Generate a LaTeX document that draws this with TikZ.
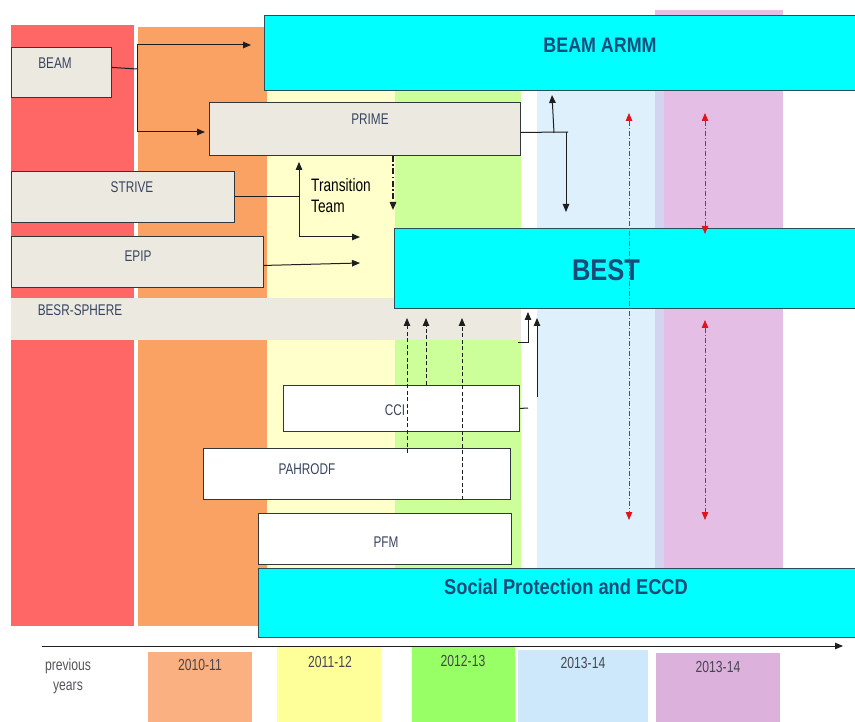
\documentclass[tikz,border=0pt]{standalone}
\usepackage{fontspec}
\setmainfont{Liberation Sans}[FakeStretch=0.76]
\newfontfamily\hfont{Liberation Sans}[FakeStretch=0.85]
\usetikzlibrary{arrows.meta}
\definecolor{colred}{RGB}{255,102,102}
\definecolor{colorange}{RGB}{250,162,100}
\definecolor{colyellow}{RGB}{255,255,204}
\definecolor{colgreen}{RGB}{204,255,153}
\definecolor{colblue}{RGB}{222,240,252}
\definecolor{colstripe}{RGB}{210,212,240}
\definecolor{colpink}{RGB}{228,190,228}
\definecolor{colcyan}{RGB}{0,255,255}
\definecolor{colbeige}{RGB}{236,233,225}
\definecolor{colborder}{RGB}{50,55,60}
\definecolor{coltitle}{RGB}{25,75,120}
\definecolor{collabel}{RGB}{55,68,95}
\definecolor{colarrowred}{RGB}{225,20,30}
\definecolor{yorange}{RGB}{250,176,128}
\definecolor{yyellow}{RGB}{255,255,153}
\definecolor{ygreen}{RGB}{153,255,102}
\definecolor{yblue}{RGB}{204,232,250}
\definecolor{ylilac}{RGB}{220,178,220}
\definecolor{ytext}{RGB}{70,70,80}
\definecolor{cyanborder}{RGB}{40,80,90}
\definecolor{prevtext}{RGB}{85,85,90}
\definecolor{lineblack}{RGB}{30,30,30}
\tikzset{
  boxbase/.style={draw=colborder, line width=0.9pt, anchor=north west, inner sep=0pt},
  beigebox/.style={boxbase, fill=colbeige},
  whitebox/.style={boxbase, fill=white},
  cyanbox/.style={boxbase, fill=colcyan, draw=cyanborder},
  lbl/.style={font=\fontsize{15.5}{18}\selectfont, text=collabel, inner sep=0pt},
  ttl/.style={font=\hfont\bfseries\fontsize{#1}{#1}\selectfont, text=coltitle, inner sep=0pt},
  yrtxt/.style={font=\fontsize{16}{19}\selectfont, text=ytext, inner sep=0pt},
  ln/.style={line width=1pt, draw=lineblack},
  arr/.style={ln, -{Triangle[length=8pt,width=6.5pt]}},
  dsharr/.style={line width=0.8pt, draw=lineblack, dash pattern=on 4pt off 2.5pt, -{Triangle[length=8pt,width=6.5pt]}},
  redarr/.style={line width=0.8pt, draw=colarrowred, dash pattern=on 5pt off 2pt on 1pt off 2pt, {Triangle[length=8pt,width=6.5pt]}-{Triangle[length=8pt,width=6.5pt]}}
}
\begin{document}
\begin{tikzpicture}[x=1pt,y=-1pt]
\useasboundingbox (0,0) rectangle (855,722);
\fill[white] (0,0) rectangle (855,722);
% background columns
\fill[colred] (11,25) rectangle (134,626);
\fill[colorange] (138,27) rectangle (267,626);
\fill[colyellow] (267,30) rectangle (395,568);
\fill[colgreen] (395,30) rectangle (521,568);
\fill[colblue] (537,90) rectangle (655,568);
\fill[colpink] (655,10) rectangle (783,568);
\fill[colstripe] (655,90) rectangle (664,568);
% BESR-SPHERE band
\fill[colbeige] (11,298) rectangle (521,340);
\node[lbl] (besrt) at (80,310) {BESR-SPHERE};
% boxes
\node[cyanbox, minimum width=591, minimum height=75] (armm) at (264,15) {};
\node[ttl=21] (armmt) at (600,45) {BEAM ARMM};
\node[beigebox, minimum width=100, minimum height=50] (beam) at (11,47) {};
\node[lbl] (beamt) at (55,63) {BEAM};
\node[beigebox, minimum width=311, minimum height=53] (prime) at (209,102) {};
\node[lbl] (primet) at (370,119) {PRIME};
\node[beigebox, minimum width=223, minimum height=51] (strive) at (11,171) {};
\node[lbl] (strivet) at (132,187) {STRIVE};
\node[beigebox, minimum width=252, minimum height=51] (epip) at (11,236) {};
\node[lbl] (epipt) at (138,256) {EPIP};
\node[cyanbox, minimum width=461, minimum height=80] (best) at (394,228) {};
\node[ttl=30] (bestt) at (606,270) {BEST};
\node[whitebox, minimum width=236, minimum height=46] (cci) at (283,385) {};
\node[lbl] (ccit) at (395,410) {CCI};
\node[whitebox, minimum width=307, minimum height=51] (pahrodf) at (203,448) {};
\node[lbl] (pahrodft) at (307,469) {PAHRODF};
\node[whitebox, minimum width=253, minimum height=51] (pfm) at (258,513) {};
\node[lbl] (pfmt) at (386,542) {PFM};
\node[cyanbox, minimum width=597, minimum height=69] (social) at (258,568) {};
\node[ttl=21.5] (socialt) at (566,587) {Social Protection and ECCD};
\node[anchor=west, align=left, font=\fontsize{18}{21}\selectfont, inner sep=0pt] (tteam) at (311,196) {Transition\\Team};
% BEAM connectors
\coordinate (bjTop) at (137,45);
\coordinate (bjBot) at (137,132);
\draw[ln] ([yshift=5]beam.east) -- (137,69);
\draw[ln] (bjTop) -- (bjBot);
\draw[arr, shorten >=13pt] (bjTop) -- (bjTop -| armm.west);
\draw[arr, shorten >=4pt] (bjBot) -- (bjBot -| prime.west);
% STRIVE / transition team
\coordinate (tt) at (299,237);
\coordinate (ttend) at (360,237);
\draw[ln] (strive.east) -- (strive.east -| tt);
\draw[arr, shorten >=6pt] (tt) -- (tt |- prime.south);
\draw[arr] (tt) -- (ttend);
% EPIP
\coordinate (epend) at (360,263);
\draw[arr] ([yshift=-3.5]epip.east) -- (epend);
% PRIME dash-dot down
\coordinate (pd) at (393,210);
\draw[line width=1.4pt, draw=lineblack, dash pattern=on 6pt off 2.5pt on 1.5pt off 2.5pt, -{Triangle[length=8pt,width=6.5pt]}] (prime.south -| pd) -- (pd);
% PRIME right connectors
\coordinate (pr) at (568,132);
\coordinate (prd) at (566,212);
\coordinate (pru) at (552,95);
\draw[ln] ([yshift=-3.5]prime.east) -- (pr);
\draw[arr] (566,132) -- (prd);
\draw[arr] (554,133) -- (pru);
% dashed arrows into BEST
\coordinate (d1) at (407,318);
\coordinate (d2) at (426,318);
\coordinate (d3) at (462,318);
\draw[dsharr] (407,453) -- (d1);
\draw[dsharr] (cci.north -| d2) -- (d2);
\draw[dsharr] (pahrodf.south -| d3) -- (d3);
% CCI / BESR arrows
\coordinate (c1) at (537,318);
\coordinate (c2) at (528,312);
\draw[ln] (cci.east) -- (528,408);
\draw[arr] (537,397) -- (c1);
\draw[ln] (518,343) -- (528,343);
\draw[arr] (528,343) -- (c2);
% red double arrows
\coordinate (r1a) at (629,113);
\coordinate (r1b) at (629,520);
\coordinate (r2a) at (705,113);
\coordinate (r2b) at (705,234);
\coordinate (r3a) at (705,320);
\coordinate (r3b) at (705,520);
\draw[redarr] (r1a) -- (r1b);
\draw[redarr] (r2a) -- (r2b);
\draw[redarr] (r3a) -- (r3b);
% timeline
\fill[yorange] (148,652) rectangle (252,722);
\fill[yyellow] (277,647) rectangle (381,722);
\fill[ygreen] (412,647) rectangle (515,722);
\fill[yblue] (518,650) rectangle (648,722);
\fill[ylilac] (656,653) rectangle (780,722);
\coordinate (tl0) at (42,646);
\coordinate (tl1) at (843,646);
\draw[line width=0.9pt, draw=lineblack, -{Triangle[length=8pt,width=6.5pt]}] (tl0) -- (tl1);
\node[yrtxt, align=center, text=prevtext, font=\fontsize{16}{20}\selectfont] (prev) at (68,676) {previous\\years};
\node[yrtxt] (y1) at (200,665) {2010-11};
\node[yrtxt] (y2) at (330,662) {2011-12};
\node[yrtxt] (y3) at (463,661) {2012-13};
\node[yrtxt] (y4) at (583,663) {2013-14};
\node[yrtxt] (y5) at (718,667) {2013-14};
\end{tikzpicture}
\end{document}
